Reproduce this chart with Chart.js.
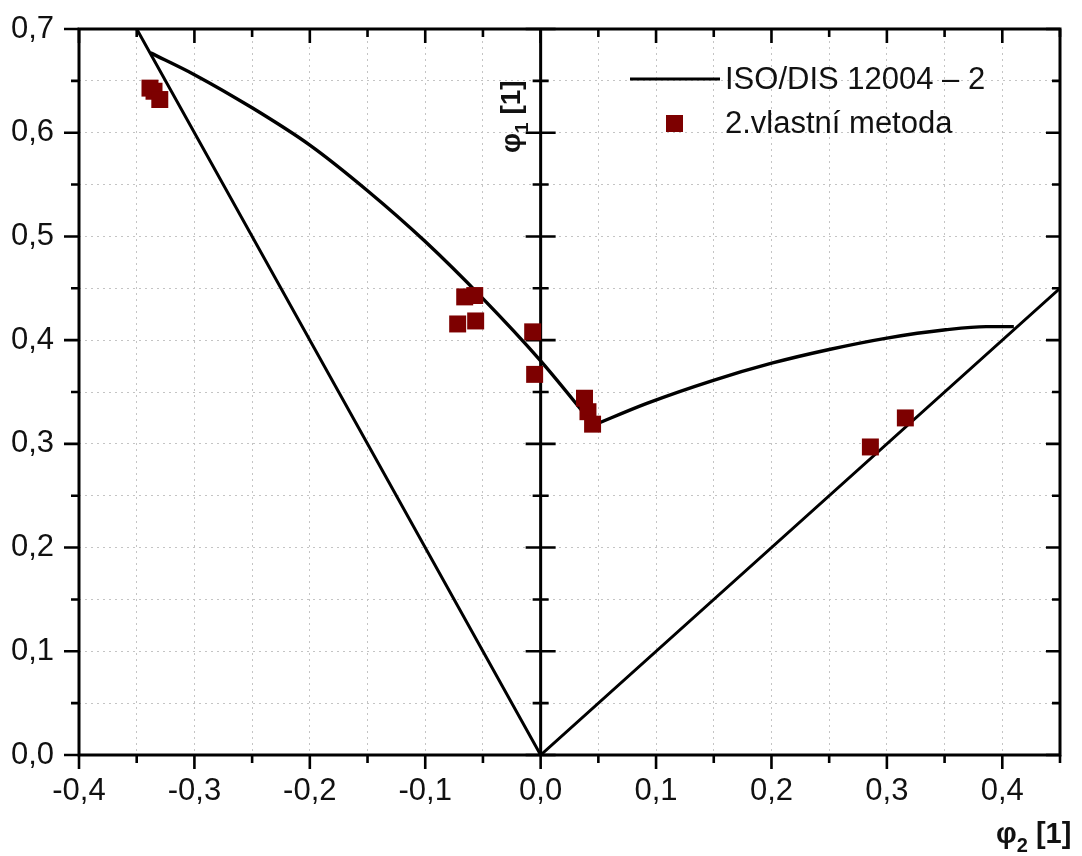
<!DOCTYPE html>
<html>
<head>
<meta charset="utf-8">
<script src="https://cdn.jsdelivr.net/npm/chart.js@4.4.0/dist/chart.umd.min.js"></script>
<style>
  html, body { margin: 0; padding: 0; background: #fff; }
  #wrap { width: 1082px; height: 856px; }
</style>
</head>
<body>
<div id="wrap"><canvas id="flcChart" width="1082" height="856"></canvas></div>
<script>
// ISO/DIS 12004-2 limit: straight V-lines through the origin
const isoLineX = [-0.35, 0, 0.45];
const isoLineY = [0.70, 0, 0.45];

// ISO curve, left branch (phi2 < ~0.05)
const isoLeftX = [-0.338, -0.30, -0.25, -0.20, -0.15, -0.10, -0.05, 0.00, 0.046];
const isoLeftY = [0.677, 0.656, 0.624, 0.588, 0.544, 0.495, 0.440, 0.380, 0.318];

// ISO curve, right branch
const isoRightX = [0.046, 0.092, 0.149, 0.201, 0.25, 0.30, 0.351, 0.386, 0.41];
const isoRightY = [0.318, 0.339, 0.361, 0.378, 0.391, 0.402, 0.410, 0.413, 0.413];

// 2. vlastni metoda - measured points
const methodX = [-0.3385, -0.335, -0.330, -0.0658, -0.0571, -0.0719, -0.0563, -0.0069, -0.0052, 0.038, 0.041, 0.045, 0.2857, 0.316];
const methodY = [0.643, 0.640, 0.632, 0.4417, 0.443, 0.4156, 0.4185, 0.408, 0.367, 0.344, 0.331, 0.319, 0.297, 0.325];

// axis ranges / tick step
const xRange = [-0.4, 0.45];
const yRange = [0, 0.7];
const tickStep = 0.05;

const legendLabels = ["ISO/DIS 12004 \u2013 2", "2.vlastn\u00ed metoda"];
const xTitle = ["\u03c6", "2", " [1]"];
const yTitle = ["\u03c6", "1", " [1]"];

const toPoints = (xs, ys) => xs.map((x, i) => ({ x: x, y: ys[i] }));
const isMajor = v => Math.abs(Math.round(v * 10) - v * 10) < 1e-6;
const fmt = v => {
  const r = Math.round(v * 10) / 10;
  return (Math.abs(r) < 1e-9 ? 0 : r).toFixed(1).replace(".", ",");
};

const MARKER = "#7d0000";
const FAMILY = "'Liberation Sans', Arial, sans-serif";

function drawSubText(ctx, parts, size) {
  // parts: main, subscript, rest - drawn from (0,0) on the alphabetic baseline
  ctx.font = "bold " + size + "px " + FAMILY;
  ctx.fillText(parts[0], 0, 0);
  let w = ctx.measureText(parts[0]).width;
  ctx.font = "bold " + Math.round(size * 0.68) + "px " + FAMILY;
  ctx.fillText(parts[1], w, size * 0.3);
  w += ctx.measureText(parts[1]).width;
  ctx.font = "bold " + size + "px " + FAMILY;
  ctx.fillText(parts[2], w, 0);
}

const frame = {
  id: "frame",
  beforeDatasetsDraw(chart) {
    const { ctx, chartArea: a, scales: { x, y } } = chart;
    ctx.save();
    ctx.strokeStyle = "#000";
    ctx.lineWidth = 3;
    ctx.lineCap = "butt";
    const x0 = x.getPixelForValue(0);
    // box + middle axis
    ctx.beginPath();
    ctx.rect(a.left, a.top, a.right - a.left, a.bottom - a.top);
    ctx.moveTo(x0, a.top);
    ctx.lineTo(x0, a.bottom);
    ctx.stroke();
    ctx.lineWidth = 2.6;
    ctx.beginPath();
    x.ticks.forEach(t => {
      const px = x.getPixelForValue(t.value);
      const big = isMajor(t.value);
      ctx.moveTo(px, a.bottom); ctx.lineTo(px, a.bottom + (big ? 14 : 8));
      ctx.moveTo(px, a.top); ctx.lineTo(px, a.top + (big ? 14 : 8));
    });
    y.ticks.forEach(t => {
      const py = y.getPixelForValue(t.value);
      const big = isMajor(t.value);
      ctx.moveTo(a.left, py); ctx.lineTo(a.left - (big ? 15 : 8), py);
      ctx.moveTo(a.right, py); ctx.lineTo(a.right - (big ? 14 : 8), py);
      const h = big ? 15 : 8;
      ctx.moveTo(x0 - h, py); ctx.lineTo(x0 + h, py);
    });
    ctx.stroke();
    ctx.restore();
  },
  afterDraw(chart) {
    const { ctx, scales: { x } } = chart;
    ctx.save();
    ctx.fillStyle = "#111";
    ctx.textBaseline = "alphabetic";
    ctx.textAlign = "left";

    // x title, bottom right
    ctx.save();
    ctx.translate(996, 843);
    drawSubText(ctx, xTitle, 29);
    ctx.restore();

    // y title, rotated, next to the middle axis
    ctx.save();
    ctx.translate(x.getPixelForValue(0) - 21, 153);
    ctx.rotate(-Math.PI / 2);
    drawSubText(ctx, yTitle, 28);
    ctx.restore();

    // legend
    const lx = 630, ly1 = 79, ly2 = 123;
    ctx.strokeStyle = "#000";
    ctx.lineWidth = 3;
    ctx.beginPath();
    ctx.moveTo(lx, ly1); ctx.lineTo(lx + 90, ly1);
    ctx.stroke();
    ctx.fillStyle = MARKER;
    ctx.fillRect(lx + 36, ly2 - 8, 17, 17);
    ctx.fillStyle = "#111";
    ctx.font = "31px " + FAMILY;
    ctx.textBaseline = "middle";
    ctx.fillText(legendLabels[0], lx + 95, ly1 + 1);
    ctx.fillText(legendLabels[1], lx + 95, ly2 + 1);
    ctx.restore();
  }
};

const ctx = document.getElementById("flcChart").getContext("2d");
new Chart(ctx, {
  type: "scatter",
  data: {
    datasets: [
      {
        label: legendLabels[1],
        data: toPoints(methodX, methodY),
        showLine: false,
        pointStyle: "rect",
        pointRadius: 12,
        pointHoverRadius: 12,
        backgroundColor: MARKER,
        borderWidth: 0,
        order: 0
      },
      {
        label: legendLabels[0],
        data: toPoints(isoLineX, isoLineY),
        showLine: true,
        borderColor: "#000",
        borderWidth: 3,
        pointRadius: 0,
        tension: 0,
        order: 1
      },
      {
        label: "_left",
        data: toPoints(isoLeftX, isoLeftY),
        showLine: true,
        borderColor: "#000",
        borderWidth: 3.4,
        pointRadius: 0,
        cubicInterpolationMode: "monotone",
        order: 1
      },
      {
        label: "_right",
        data: toPoints(isoRightX, isoRightY),
        showLine: true,
        borderColor: "#000",
        borderWidth: 3.4,
        pointRadius: 0,
        cubicInterpolationMode: "monotone",
        order: 1
      }
    ]
  },
  options: {
    responsive: false,
    animation: false,
    events: [],
    layout: { padding: { top: 29, right: 22, left: 0, bottom: 0 } },
    plugins: { legend: { display: false }, tooltip: { enabled: false } },
    scales: {
      x: {
        type: "linear",
        min: xRange[0],
        max: xRange[1],
        afterFit: s => { s.height = 101; },
        ticks: {
          stepSize: tickStep,
          autoSkip: false,
          maxRotation: 0,
          padding: 4,
          color: "#111",
          font: { family: FAMILY, size: 31 },
          callback: v => (isMajor(v) ? fmt(v) : "")
        },
        grid: { color: "#c4c4c4", lineWidth: 1, tickLength: 14, tickColor: "transparent" },
        border: { display: false, dash: [2, 4] }
      },
      y: {
        type: "linear",
        min: yRange[0],
        max: yRange[1],
        afterFit: s => { s.width = 79; },
        ticks: {
          stepSize: tickStep,
          autoSkip: false,
          padding: 10,
          color: "#111",
          font: { family: FAMILY, size: 31 },
          callback: v => (isMajor(v) ? fmt(v) : "")
        },
        grid: { color: "#c4c4c4", lineWidth: 1, tickLength: 15, tickColor: "transparent" },
        border: { display: false, dash: [2, 4] }
      }
    }
  },
  plugins: [frame]
});
</script>
</body>
</html>
